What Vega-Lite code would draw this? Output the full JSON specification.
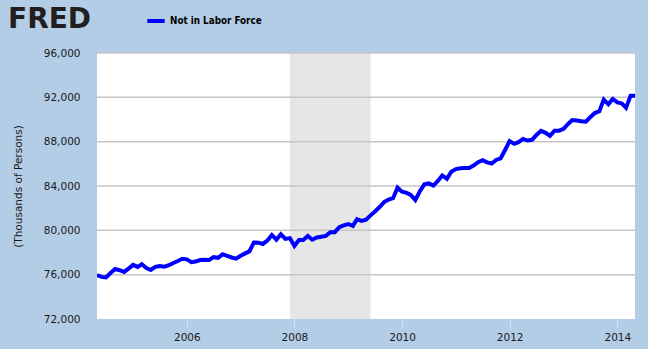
{
  "$schema": "https://vega.github.io/schema/vega-lite/v6.json",
  "width": 538,
  "height": 266,
  "autosize": {"type": "none"},
  "padding": {"left": 97, "top": 53, "right": 13, "bottom": 30},
  "background": "#B4CDE6",
  "config": {
    "view": {"fill": "white", "stroke": null},
    "axis": {
      "labelFont": "DejaVu Sans",
      "labelFontSize": 10.5,
      "labelColor": "#1a1a1a",
      "titleFont": "DejaVu Sans",
      "titleFontSize": 10.5,
      "titleFontWeight": "normal",
      "titleColor": "#1a1a1a",
      "domain": false,
      "grid": false
    },
    "legend": {
      "labelFont": "DejaVu Sans Condensed",
      "labelFontWeight": "bold",
      "labelFontSize": 9.8,
      "labelColor": "#000000"
    }
  },
  "data": {
    "values": [
      {"date": "2004-05-01", "value": 75950},
      {"date": "2004-06-01", "value": 75800},
      {"date": "2004-07-01", "value": 75750},
      {"date": "2004-08-01", "value": 76150},
      {"date": "2004-09-01", "value": 76520},
      {"date": "2004-10-01", "value": 76400},
      {"date": "2004-11-01", "value": 76250},
      {"date": "2004-12-01", "value": 76550},
      {"date": "2005-01-01", "value": 76880},
      {"date": "2005-02-01", "value": 76700},
      {"date": "2005-03-01", "value": 76950},
      {"date": "2005-04-01", "value": 76600},
      {"date": "2005-05-01", "value": 76420},
      {"date": "2005-06-01", "value": 76700},
      {"date": "2005-07-01", "value": 76780},
      {"date": "2005-08-01", "value": 76720},
      {"date": "2005-09-01", "value": 76850},
      {"date": "2005-10-01", "value": 77050},
      {"date": "2005-11-01", "value": 77230},
      {"date": "2005-12-01", "value": 77430},
      {"date": "2006-01-01", "value": 77380},
      {"date": "2006-02-01", "value": 77130},
      {"date": "2006-03-01", "value": 77180},
      {"date": "2006-04-01", "value": 77320},
      {"date": "2006-05-01", "value": 77350},
      {"date": "2006-06-01", "value": 77330},
      {"date": "2006-07-01", "value": 77580},
      {"date": "2006-08-01", "value": 77520},
      {"date": "2006-09-01", "value": 77850},
      {"date": "2006-10-01", "value": 77700},
      {"date": "2006-11-01", "value": 77550},
      {"date": "2006-12-01", "value": 77450},
      {"date": "2007-01-01", "value": 77700},
      {"date": "2007-02-01", "value": 77920},
      {"date": "2007-03-01", "value": 78100},
      {"date": "2007-04-01", "value": 78900},
      {"date": "2007-05-01", "value": 78890},
      {"date": "2007-06-01", "value": 78770},
      {"date": "2007-07-01", "value": 79070},
      {"date": "2007-08-01", "value": 79580},
      {"date": "2007-09-01", "value": 79150},
      {"date": "2007-10-01", "value": 79640},
      {"date": "2007-11-01", "value": 79230},
      {"date": "2007-12-01", "value": 79300},
      {"date": "2008-01-01", "value": 78600},
      {"date": "2008-02-01", "value": 79130},
      {"date": "2008-03-01", "value": 79130},
      {"date": "2008-04-01", "value": 79490},
      {"date": "2008-05-01", "value": 79150},
      {"date": "2008-06-01", "value": 79350},
      {"date": "2008-07-01", "value": 79420},
      {"date": "2008-08-01", "value": 79500},
      {"date": "2008-09-01", "value": 79830},
      {"date": "2008-10-01", "value": 79830},
      {"date": "2008-11-01", "value": 80280},
      {"date": "2008-12-01", "value": 80450},
      {"date": "2009-01-01", "value": 80570},
      {"date": "2009-02-01", "value": 80400},
      {"date": "2009-03-01", "value": 81000},
      {"date": "2009-04-01", "value": 80850},
      {"date": "2009-05-01", "value": 80950},
      {"date": "2009-06-01", "value": 81350},
      {"date": "2009-07-01", "value": 81700},
      {"date": "2009-08-01", "value": 82100},
      {"date": "2009-09-01", "value": 82550},
      {"date": "2009-10-01", "value": 82780},
      {"date": "2009-11-01", "value": 82900},
      {"date": "2009-12-01", "value": 83850},
      {"date": "2010-01-01", "value": 83490},
      {"date": "2010-02-01", "value": 83380},
      {"date": "2010-03-01", "value": 83200},
      {"date": "2010-04-01", "value": 82740},
      {"date": "2010-05-01", "value": 83500},
      {"date": "2010-06-01", "value": 84150},
      {"date": "2010-07-01", "value": 84230},
      {"date": "2010-08-01", "value": 84030},
      {"date": "2010-09-01", "value": 84450},
      {"date": "2010-10-01", "value": 84950},
      {"date": "2010-11-01", "value": 84650},
      {"date": "2010-12-01", "value": 85290},
      {"date": "2011-01-01", "value": 85530},
      {"date": "2011-02-01", "value": 85600},
      {"date": "2011-03-01", "value": 85620},
      {"date": "2011-04-01", "value": 85620},
      {"date": "2011-05-01", "value": 85850},
      {"date": "2011-06-01", "value": 86150},
      {"date": "2011-07-01", "value": 86330},
      {"date": "2011-08-01", "value": 86130},
      {"date": "2011-09-01", "value": 86030},
      {"date": "2011-10-01", "value": 86350},
      {"date": "2011-11-01", "value": 86500},
      {"date": "2011-12-01", "value": 87250},
      {"date": "2012-01-01", "value": 88050},
      {"date": "2012-02-01", "value": 87800},
      {"date": "2012-03-01", "value": 87950},
      {"date": "2012-04-01", "value": 88250},
      {"date": "2012-05-01", "value": 88100},
      {"date": "2012-06-01", "value": 88170},
      {"date": "2012-07-01", "value": 88600},
      {"date": "2012-08-01", "value": 88980},
      {"date": "2012-09-01", "value": 88800},
      {"date": "2012-10-01", "value": 88520},
      {"date": "2012-11-01", "value": 88990},
      {"date": "2012-12-01", "value": 88990},
      {"date": "2013-01-01", "value": 89150},
      {"date": "2013-02-01", "value": 89600},
      {"date": "2013-03-01", "value": 89950},
      {"date": "2013-04-01", "value": 89900},
      {"date": "2013-05-01", "value": 89850},
      {"date": "2013-06-01", "value": 89800},
      {"date": "2013-07-01", "value": 90200},
      {"date": "2013-08-01", "value": 90580},
      {"date": "2013-09-01", "value": 90750},
      {"date": "2013-10-01", "value": 91800},
      {"date": "2013-11-01", "value": 91370},
      {"date": "2013-12-01", "value": 91850},
      {"date": "2014-01-01", "value": 91550},
      {"date": "2014-02-01", "value": 91450},
      {"date": "2014-03-01", "value": 91050},
      {"date": "2014-04-01", "value": 92150},
      {"date": "2014-05-01", "value": 92150}
    ]
  },
  "layer": [
    {
      "data": {"values": [{"start": "2007-12-01", "end": "2009-06-01"}]},
      "mark": {"type": "rect", "color": "#E6E6E6"},
      "encoding": {
        "x": {"field": "start", "type": "temporal"},
        "x2": {"field": "end"}
      }
    },
    {
      "data": {"values": [{"v": 76000}, {"v": 80000}, {"v": 84000}, {"v": 88000}, {"v": 92000}, {"v": 96000}]},
      "mark": {"type": "rule", "color": "#C6C6C6", "strokeWidth": 1.5},
      "encoding": {
        "y": {"field": "v", "type": "quantitative"}
      }
    },
    {
      "mark": {"type": "line", "strokeWidth": 4, "strokeJoin": "miter", "clip": true},
      "encoding": {
        "x": {
          "field": "date",
          "type": "temporal",
          "scale": {"type": "utc", "domain": [{"year": 2004, "month": 5, "date": 1, "utc": true}, {"year": 2014, "month": 5, "date": 1, "utc": true}]},
          "axis": {
            "title": null,
            "values": [{"year": 2006, "month": 1, "date": 1, "utc": true}, {"year": 2008, "month": 1, "date": 1, "utc": true}, {"year": 2010, "month": 1, "date": 1, "utc": true}, {"year": 2012, "month": 1, "date": 1, "utc": true}, {"year": 2014, "month": 1, "date": 1, "utc": true}],
            "format": "%Y",
            "ticks": true,
            "tickColor": "#D2E1F0",
            "tickSize": 9,
            "labelPadding": 4
          }
        },
        "y": {
          "field": "value",
          "type": "quantitative",
          "scale": {"domain": [72000, 96000], "nice": false, "zero": false},
          "axis": {
            "title": "(Thousands of Persons)",
            "values": [72000, 76000, 80000, 84000, 88000, 92000, 96000],
            "format": ",d",
            "ticks": false,
            "labelPadding": 17,
            "titlePadding": 20
          }
        },
        "color": {
          "datum": "Not in Labor Force",
          "type": "nominal",
          "scale": {"range": ["#0000FF"]},
          "legend": {
            "title": "FRED",
            "titleFont": "DejaVu Sans",
            "titleFontSize": 28,
            "titleFontWeight": 900,
            "titleColor": "#231f20",
            "titleOrient": "left",
            "titleBaseline": "middle",
            "titlePadding": 53,
            "titleLimit": 200,
            "orient": "none",
            "legendX": -89,
            "legendY": -43,
            "symbolType": "stroke",
            "symbolStrokeWidth": 4,
            "symbolSize": 300,
            "labelOffset": 3
          }
        }
      }
    }
  ]
}
